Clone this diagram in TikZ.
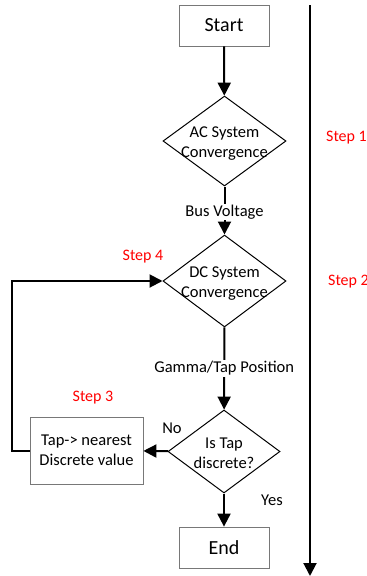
\documentclass[tikz,border=0pt]{standalone}
\usepackage{fontspec}
\setmainfont{Carlito}
\usetikzlibrary{shapes.geometric,arrows.meta}
\definecolor{stepred}{RGB}{255,0,0}
\definecolor{boxgray}{RGB}{120,120,120}
\begin{document}
\begin{tikzpicture}[x=1pt,y=-1pt,
  procbox/.style={draw=boxgray,line width=0.8pt,fill=white,inner sep=0pt,align=center},
  decision/.style={draw=black,line width=1pt,shape=diamond,inner sep=0pt,aspect=1.37},
  dtext/.style={align=center,font=\fontsize{16.5}{20}\selectfont},
  flow/.style={line width=2pt,-{Triangle[length=13pt,width=13pt]}},
  edgelabel/.style={fill=white,inner sep=1pt,font=\fontsize{16.5}{19}\selectfont},
  steplabel/.style={text=stepred,inner sep=0pt,font=\fontsize{16}{19}\selectfont},
  plainlabel/.style={font=\fontsize{16.5}{19}\selectfont}]
\useasboundingbox (0,0) rectangle (367,576);

% process boxes
\node[procbox,minimum width=90pt,minimum height=41pt,font=\fontsize{20}{24}\selectfont] (start) at (224,25.5) {Start};
\node[procbox,minimum width=90pt,minimum height=41pt,font=\fontsize{20}{24}\selectfont] (stop) at (224,547.5) {End};
\node[procbox,minimum width=113pt,minimum height=67pt,font=\fontsize{16.5}{20}\selectfont] (round) at (86.5,450.5) {Tap-> nearest\\Discrete value};

% decisions
\node[decision,minimum width=123pt,minimum height=90pt] (ac) at (224.5,141) {};
\node[dtext] at ([yshift=-3pt]ac.center) {AC System\\Convergence};
\node[decision,minimum width=123pt,minimum height=92pt] (dc) at (224.5,281) {};
\node[dtext] at ([yshift=-3pt]dc.center) {DC System\\Convergence};
\node[decision,minimum width=112pt,minimum height=83pt] (istap) at (224,451.5) {};
\node[dtext] at ([yshift=-2pt]istap.center) {Is Tap\\discrete?};

% main flow
\draw[flow] (start) -- (ac);
\draw[flow] (ac) -- (dc) node[edgelabel,pos=0.53] (bus) {Bus Voltage};
\draw[flow] (dc) -- (istap) node[edgelabel,pos=0.5] (gamma) {Gamma/Tap Position};
\draw[flow] (istap) -- (stop);
\draw[flow] (istap) -- (round);

% loop back to the DC solver
\coordinate (loopbot) at (12,450.5);
\coordinate (looptop) at (12,281);
\draw[flow] (round.west) -- (loopbot) -- (looptop) -- (dc.west);

% branch labels
\node[plainlabel] (no) at (172,428) {No};
\node[plainlabel] (yes) at (272,500) {Yes};

% step timeline
\coordinate (tltop) at (310,5);
\coordinate (tlbot) at (310,576);
\draw[flow] (tltop) -- (tlbot);
\node[steplabel,anchor=west] (s1) at (326,138) {Step 1};
\node[steplabel,anchor=west] (s2) at (328,282) {Step 2};
\node[steplabel] (s3) at (93,398) {Step 3};
\node[steplabel] (s4) at (143,257) {Step 4};
\end{tikzpicture}
\end{document}
